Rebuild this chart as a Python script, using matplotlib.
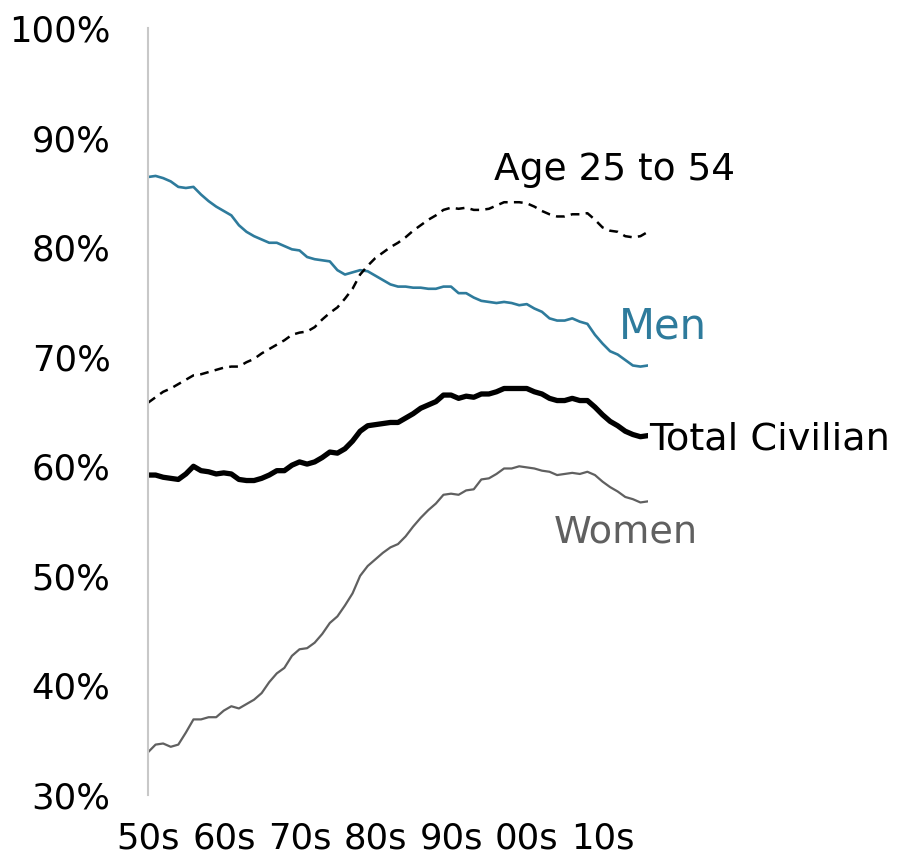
import numpy as np
import matplotlib
matplotlib.use("Agg")
import matplotlib.pyplot as plt

plt.rcParams['font.family'] = ['DejaVu Sans']

years = list(range(1950, 2017))

# labour force participation rate, annual, %
total = [59.2, 59.2, 59.0, 58.9, 58.8, 59.3, 60.0, 59.6, 59.5, 59.3,
         59.4, 59.3, 58.8, 58.7, 58.7, 58.9, 59.2, 59.6, 59.6, 60.1,
         60.4, 60.2, 60.4, 60.8, 61.3, 61.2, 61.6, 62.3, 63.2, 63.7,
         63.8, 63.9, 64.0, 64.0, 64.4, 64.8, 65.3, 65.6, 65.9, 66.5,
         66.5, 66.2, 66.4, 66.3, 66.6, 66.6, 66.8, 67.1, 67.1, 67.1,
         67.1, 66.8, 66.6, 66.2, 66.0, 66.0, 66.2, 66.0, 66.0, 65.4,
         64.7, 64.1, 63.7, 63.2, 62.9, 62.7, 62.8]
men = [86.4, 86.5, 86.3, 86.0, 85.5, 85.4, 85.5, 84.8, 84.2, 83.7,
       83.3, 82.9, 82.0, 81.4, 81.0, 80.7, 80.4, 80.4, 80.1, 79.8,
       79.7, 79.1, 78.9, 78.8, 78.7, 77.9, 77.5, 77.7, 77.9, 77.8,
       77.4, 77.0, 76.6, 76.4, 76.4, 76.3, 76.3, 76.2, 76.2, 76.4,
       76.4, 75.8, 75.8, 75.4, 75.1, 75.0, 74.9, 75.0, 74.9, 74.7,
       74.8, 74.4, 74.1, 73.5, 73.3, 73.3, 73.5, 73.2, 73.0, 72.0,
       71.2, 70.5, 70.2, 69.7, 69.2, 69.1, 69.2]
women = [33.9, 34.6, 34.7, 34.4, 34.6, 35.7, 36.9, 36.9, 37.1, 37.1,
         37.7, 38.1, 37.9, 38.3, 38.7, 39.3, 40.3, 41.1, 41.6, 42.7,
         43.3, 43.4, 43.9, 44.7, 45.7, 46.3, 47.3, 48.4, 50.0, 50.9,
         51.5, 52.1, 52.6, 52.9, 53.6, 54.5, 55.3, 56.0, 56.6, 57.4,
         57.5, 57.4, 57.8, 57.9, 58.8, 58.9, 59.3, 59.8, 59.8, 60.0,
         59.9, 59.8, 59.6, 59.5, 59.2, 59.3, 59.4, 59.3, 59.5, 59.2,
         58.6, 58.1, 57.7, 57.2, 57.0, 56.7, 56.8]
prime = [65.8, 66.3, 66.8, 67.1, 67.5, 67.9, 68.3, 68.4, 68.6, 68.8,
         69.0, 69.1, 69.1, 69.5, 69.8, 70.3, 70.7, 71.1, 71.5, 72.0,
         72.2, 72.3, 72.7, 73.4, 74.0, 74.5, 75.3, 76.2, 77.5, 78.3,
         79.0, 79.5, 80.0, 80.4, 80.9, 81.5, 82.0, 82.5, 82.9, 83.4,
         83.6, 83.5, 83.6, 83.4, 83.4, 83.5, 83.8, 84.1, 84.1, 84.1,
         84.0, 83.7, 83.3, 83.0, 82.8, 82.8, 83.0, 83.0, 83.1, 82.5,
         81.8, 81.5, 81.4, 81.0, 80.9, 81.0, 81.4]

decade_pos = [1950, 1960, 1970, 1980, 1990, 2000, 2010]
decade_labels = ["50s", "60s", "70s", "80s", "90s", "00s", "10s"]
y_ticks = [30, 40, 50, 60, 70, 80, 90, 100]

BLUE = "#2e7b9c"
GREY = "#606060"

fig = plt.figure(figsize=(8.97, 8.59), dpi=100)
ax = fig.add_axes([0.165, 0.0745, 0.5574, 0.8929])

ax.plot(years, men, color=BLUE, lw=1.9)
ax.plot(years, women, color=GREY, lw=1.6)
ax.plot(years, prime, color="black", lw=1.8, ls=(0, (3.5, 2.5)))
ax.plot(years, total, color="black", lw=3.8, solid_capstyle="round")

ax.set_xlim(1950, 2016)
ax.set_ylim(30, 100)
ax.set_yticks(y_ticks)
ax.set_yticklabels([f"{v}%" for v in y_ticks])
ax.set_xticks(decade_pos)
ax.set_xticklabels(decade_labels)
ax.tick_params(length=0, labelsize=25.5)
ax.tick_params(axis="y", pad=27)
ax.tick_params(axis="x", pad=19)

for s in ["top", "right", "bottom"]:
    ax.spines[s].set_visible(False)
ax.spines["left"].set_color("#c8c8c8")
ax.spines["left"].set_linewidth(1.5)

ax.text(2011.6, 87.4, "Age 25 to 54", fontsize=27, color="black",
        ha="center", va="center_baseline", clip_on=False)
ax.text(2017.9, 73.2, "Men", fontsize=30, color=BLUE,
        ha="center", va="center_baseline", clip_on=False)
ax.text(2016.2, 62.8, "Total Civilian", fontsize=27.5, color="black",
        ha="left", va="center_baseline", clip_on=False)
ax.text(2013.1, 54.3, "Women", fontsize=27.5, color=GREY,
        ha="center", va="center_baseline", clip_on=False)

fig.savefig("out.png", dpi=100)
